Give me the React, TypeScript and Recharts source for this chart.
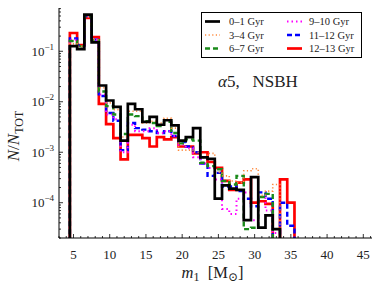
import React from "react";
import { Line, LineChart, XAxis, YAxis } from "recharts";

// primary mass bins (1 Msun wide, centred on the integer)
const massBins = [5, 6, 7, 8, 9, 10, 11, 12, 13, 14, 15, 16, 17, 18, 19, 20, 21, 22, 23, 24, 25, 26, 27, 28, 29, 30, 31, 32, 33, 34, 35];

// fraction N/N_TOT per bin, 0 = empty bin
const age0to1 = [0.126, 0.11, 0.53, 0.15, 0.021, 0.0106, 0.0079, 0.0017, 0.0091, 0.0071, 0.004, 0.005, 0.0035, 0.0043, 0.0034, 0.0017, 0.002, 0.003, 0.00079, 0.00074, 0.00012, 0.00022, 0.00019, 0.00018, 0.000045, 0.00032, 0.000032, 0.000056, 0.00003, 0, 0];
const age3to4 = [0.14, 0.125, 0.48, 0.17, 0.019, 0.0095, 0.007, 0.002, 0.0065, 0.0065, 0.0038, 0.0041, 0.0038, 0.0047, 0.003, 0.0011, 0.0011, 0.001, 0.00077, 0.00095, 0.0004, 0.00034, 0.00027, 0.00025, 0.00043, 0.00047, 0.00014, 0.00017, 0.00023, 0, 0];
const age6to7 = [0.16, 0.125, 0.49, 0.165, 0.016, 0.0082, 0.0056, 0.0023, 0.0056, 0.0052, 0.0041, 0.0038, 0.0033, 0.004, 0.0024, 0.0015, 0.0018, 0.0017, 0.00062, 0.00053, 0.00046, 0.00027, 0.00023, 0.00034, 0.00003, 0.000032, 0.00013, 0.00015, 0, 0, 0];
const age9to10 = [0.17, 0.125, 0.49, 0.17, 0.014, 0.0056, 0.0045, 0.001, 0.0035, 0.0026, 0.0026, 0.003, 0.0024, 0.0026, 0.0021, 0.0014, 0.0012, 0.0008, 0.0006, 0.00049, 0.00029, 0.000075, 0.00006, 0.00012, 0.00016, 0.000045, 0.00013, 0.00007, 0.000025, 0, 0];
const age11to12 = [0.18, 0.13, 0.5, 0.17, 0.013, 0.006, 0.0042, 0.0011, 0.0038, 0.003, 0.0028, 0.0026, 0.0024, 0.0026, 0.0021, 0.0016, 0.0013, 0.001, 0.0006, 0.00034, 0.00039, 0.00021, 0.00021, 0.00017, 0.00012, 0.000085, 0.00016, 0.00012, 0, 0.0001, 0.000035];
const age12to13 = [0.23, 0.133, 0.46, 0.19, 0.0091, 0.0036, 0.0019, 0.00072, 0.0022, 0.0022, 0.0019, 0.0013, 0.002, 0.0018, 0.002, 0.0013, 0.0013, 0.00095, 0.001, 0.00064, 0.00049, 0.00027, 0.00018, 0.00025, 0.00029, 0.0001, 0.000107, 0.000095, 0, 0.00029, 0.0001];

const xTickLabels = [5, 10, 15, 20, 25, 30, 35, 40, 45];
const yTickLabels = [1e-4, 1e-3, 1e-2, 1e-1];

const FONT = "'Liberation Serif', 'DejaVu Serif', serif";
const FLOOR = 1e-7; // empty bins drop below the axis

const series = [
  { key: "a0", label: "0\u20131 Gyr", values: age0to1, color: "#000000", width: 2.7, dash: undefined as string | undefined },
  { key: "a3", label: "3\u20134 Gyr", values: age3to4, color: "#ff8a3d", width: 1.6, dash: "1.2 2.4" },
  { key: "a6", label: "6\u20137 Gyr", values: age6to7, color: "#1a8a1a", width: 2.4, dash: "5 3" },
  { key: "a9", label: "9\u201310 Gyr", values: age9to10, color: "#ff00ff", width: 2, dash: "1.5 3" },
  { key: "a11", label: "11\u201312 Gyr", values: age11to12, color: "#0000ff", width: 2.4, dash: "5 3" },
  { key: "a12", label: "12\u201313 Gyr", values: age12to13, color: "#ff0000", width: 2.7, dash: undefined as string | undefined },
];

// draw order: red at the bottom, black on top
const drawOrder = ["a12", "a11", "a9", "a6", "a3", "a0"];

function buildRows() {
  const first: Record<string, number> = { x: massBins[0] - 0.5 };
  const last: Record<string, number> = { x: massBins[massBins.length - 1] + 0.5 };
  series.forEach((s) => {
    first[s.key] = FLOOR;
    last[s.key] = FLOOR;
  });
  const rows = massBins.map((m, i) => {
    const r: Record<string, number> = { x: m - 0.5 };
    series.forEach((s) => {
      r[s.key] = s.values[i] > 0 ? s.values[i] : FLOOR;
    });
    return r;
  });
  return [first, ...rows, last];
}

const rows = buildRows();

const xTicks: number[] = [];
for (let v = 3; v <= 46; v++) xTicks.push(v);
const yTicks: number[] = [];
for (let e = -5; e <= -1; e++) {
  for (let k = 1; k <= 9; k++) {
    const v = k * Math.pow(10, e);
    if (v >= 2e-5 && v <= 0.72) yTicks.push(v);
  }
}

function XTick(props: any) {
  const { x, y, payload, side } = props;
  const major = xTickLabels.includes(payload.value);
  const len = major ? 4 : 2;
  const dir = side === "bottom" ? -1 : 1;
  return (
    <g>
      <line x1={x} x2={x} y1={y} y2={y + dir * len} stroke="#000" strokeWidth={0.8} />
      {side === "bottom" && major && (
        <text x={x} y={y + 21} textAnchor="middle" fontSize={13} fontFamily={FONT} fill="#222">
          {payload.value}
        </text>
      )}
    </g>
  );
}

function YTick(props: any) {
  const { x, y, payload, side } = props;
  const v = payload.value;
  const exp = Math.round(Math.log10(v));
  const major = yTickLabels.some((t) => Math.abs(t - v) < v * 1e-6);
  const len = major ? 4 : 2;
  const dir = side === "left" ? 1 : -1;
  return (
    <g>
      <line x1={x} x2={x + dir * len} y1={y} y2={y} stroke="#000" strokeWidth={0.8} />
      {side === "left" && major && (
        <text x={x - 5} y={y + 4.5} textAnchor="end" fontSize={13} fontFamily={FONT} fill="#222">
          10
          <tspan dy={-6} fontSize={9}>
            {"\u2212" + String(-exp)}
          </tspan>
        </text>
      )}
    </g>
  );
}

function XLabel(props: any) {
  const vb = props.viewBox;
  return (
    <text x={vb.x + vb.width / 2 - 3} y={vb.y + 40} textAnchor="middle" fontSize={16.5} fontFamily={FONT} fill="#222">
      <tspan fontStyle="italic">m</tspan>
      <tspan dy={3} fontSize={12}>1</tspan>
      <tspan dy={-3}>{"\u00a0\u00a0[M"}</tspan>
      <tspan dy={3} fontSize={12}>{"\u2299"}</tspan>
      <tspan dy={-3}>]</tspan>
    </text>
  );
}

function YLabel() {
  return (
    <text transform="translate(19,136) rotate(-90)" textAnchor="middle" fontSize={17} fontFamily={FONT} fill="#222">
      <tspan fontStyle="italic">N</tspan>
      <tspan>/</tspan>
      <tspan fontStyle="italic">N</tspan>
      <tspan dy={3.5} fontSize={12}>TOT</tspan>
    </text>
  );
}

function LegendBox() {
  const cols = [
    [series[0], series[1], series[2]],
    [series[3], series[4], series[5]],
  ];
  const lineX = [205, 287];
  const textX = [229, 309];
  const rowY = [21.5, 35, 48.5];
  return (
    <g>
      <rect x={201.5} y={12.5} width={160} height={45} fill="#fff" stroke="#000" strokeWidth={1} />
      {cols.map((col, ci) =>
        col.map((s, ri) => (
          <g key={s.key}>
            <line
              x1={lineX[ci]}
              x2={lineX[ci] + 15}
              y1={rowY[ri]}
              y2={rowY[ri]}
              stroke={s.color}
              strokeWidth={s.width}
              strokeDasharray={s.dash}
            />
            <text x={textX[ci]} y={rowY[ri] + 3.5} fontSize={10.5} fontFamily={FONT} fill="#222">
              {s.label}
            </text>
          </g>
        ))
      )}
    </g>
  );
}

export default function App() {
  return (
    <div style={{ position: "absolute", left: 0, top: 0, width: 382, height: 288, background: "#fff" }}>
      <LineChart width={382} height={288} data={rows} margin={{ top: 8, right: 10, bottom: 0, left: 0 }}>
        <XAxis
          xAxisId="b"
          dataKey="x"
          type="number"
          domain={[3, 46.2]}
          allowDataOverflow
          ticks={xTicks}
          interval={0}
          tickSize={0}
          tickMargin={0}
          height={50}
          axisLine={{ stroke: "#000", strokeWidth: 1 }}
          tickLine={false}
          tick={(p: any) => <XTick {...p} side="bottom" />}
          label={{ content: (p: any) => <XLabel {...p} /> }}
        />
        <XAxis
          xAxisId="t"
          orientation="top"
          dataKey="x"
          type="number"
          domain={[3, 46.2]}
          allowDataOverflow
          ticks={xTicks}
          interval={0}
          tickSize={0}
          tickMargin={0}
          height={0}
          axisLine={{ stroke: "#000", strokeWidth: 1 }}
          tickLine={false}
          tick={(p: any) => <XTick {...p} side="top" />}
        />
        <YAxis
          yAxisId="l"
          scale="log"
          domain={[2e-5, 0.72]}
          allowDataOverflow
          ticks={yTicks}
          interval={0}
          tickSize={0}
          tickMargin={0}
          width={59}
          axisLine={{ stroke: "#000", strokeWidth: 1 }}
          tickLine={false}
          tick={(p: any) => <YTick {...p} side="left" />}
          label={{ content: () => <YLabel /> }}
        />
        <YAxis
          yAxisId="r"
          orientation="right"
          scale="log"
          domain={[2e-5, 0.72]}
          allowDataOverflow
          ticks={yTicks}
          interval={0}
          tickSize={0}
          tickMargin={0}
          width={0}
          axisLine={{ stroke: "#000", strokeWidth: 1 }}
          tickLine={false}
          tick={(p: any) => <YTick {...p} side="right" />}
        />
        {drawOrder.map((k) => {
          const s = series.find((q) => q.key === k)!;
          return (
            <Line
              key={s.key}
              xAxisId="b"
              yAxisId="l"
              dataKey={s.key}
              name={s.label}
              type="stepAfter"
              stroke={s.color}
              strokeWidth={s.width}
              strokeDasharray={s.dash}
              dot={false}
              activeDot={false}
              isAnimationActive={false}
            />
          );
        })}
      </LineChart>
      <svg width={382} height={288} style={{ position: "absolute", left: 0, top: 0, pointerEvents: "none" }}>
        <LegendBox />
        <text x={218} y={87} fontSize={17} fontFamily={FONT} fill="#222">
          <tspan fontStyle="italic">{"\u03b1"}</tspan>
          <tspan>{"5,\u00a0\u00a0\u00a0NSBH"}</tspan>
        </text>
      </svg>
    </div>
  );
}
